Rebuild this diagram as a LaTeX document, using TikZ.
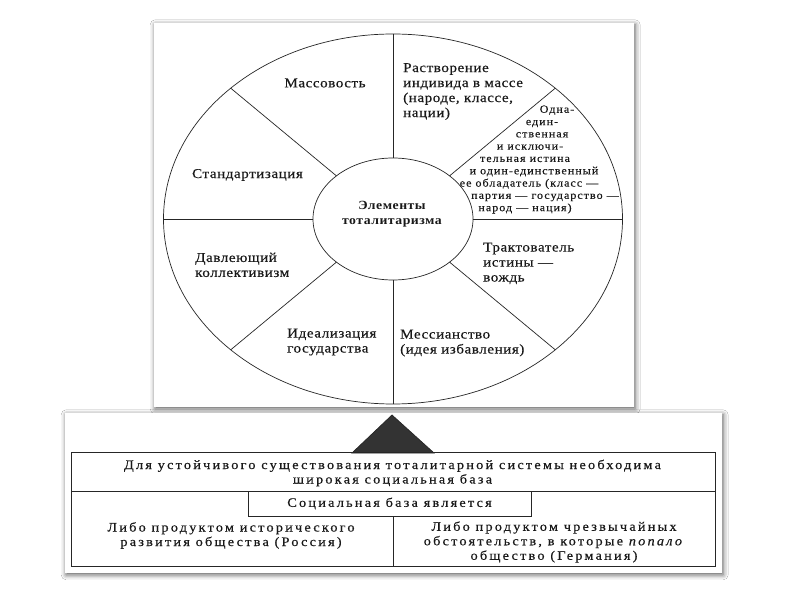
\documentclass[tikz,border=0pt]{standalone}
\usepackage{fontspec}
\setmainfont{Liberation Serif}
\newfontfamily\labfont[LetterSpace=4, FakeStretch=1.12, FakeBold=0.4]{Liberation Serif}
\newfontfamily\smlfont[LetterSpace=9, FakeStretch=1.1, FakeBold=0.25]{Liberation Serif}
\newfontfamily\botfont[LetterSpace=17, FakeStretch=1.1, FakeBold=0.4]{Liberation Serif}
\newfontfamily\ttlfont[LetterSpace=4, FakeStretch=1.1]{Liberation Serif}
\usetikzlibrary{shapes.geometric,shadows.blur,calc}
\begin{document}
\begin{tikzpicture}[x=1pt,y=1pt,
  panel/.style={fill=white, draw=none, inner sep=0pt,
    blur shadow={shadow xshift=1pt, shadow yshift=-2pt, shadow blur radius=5pt, shadow opacity=65}},
  ln/.style={draw=black!85, line width=0.7pt},
  lab/.style={font={\labfont\fontsize{13.5}{15}\selectfont}, inner sep=0pt, text=black!90},
  sml/.style={font={\smlfont\fontsize{11}{12.3}\selectfont}, inner sep=0pt, text=black!90},
  bot/.style={font={\botfont\fontsize{13}{14.5}\selectfont}, inner sep=0pt, text=black!90},
  ttl/.style={font={\ttlfont\bfseries\fontsize{12.5}{15}\selectfont}, inner sep=0pt, text=black!90}
]
\fill[white] (0,0) rectangle (800,600);
\useasboundingbox (0,0) rectangle (800,600);

% panels
\node[panel, minimum width=480, minimum height=384, anchor=south west] (toppanel) at (154,193) {};
\node[panel, minimum width=657, minimum height=160, anchor=south west] (botpanel) at (65,27) {};

% wheel
\node[ellipse, ln, minimum width=459, minimum height=370, inner sep=0pt] (outer) at (393,381) {};
\node[ellipse, ln, minimum width=160, minimum height=122, inner sep=0pt] (inner) at (393,381) {};
\node[ttl, align=center] (title) at (392,385.5) {Элементы\\тоталитаризма};
\draw[ln] (outer.west) -- (inner.west);
\draw[ln] (outer.east) -- (inner.east);
\draw[ln] (outer.north) -- (inner.north);
\draw[ln] (outer.south) -- (inner.south);
\draw[ln] ($(outer.center)+(45:229.5 and 185)$) -- ($(inner.center)+(45:80 and 61)$);
\draw[ln] ($(outer.center)+(135:229.5 and 185)$) -- ($(inner.center)+(135:80 and 61)$);
\draw[ln] ($(outer.center)+(225:229.5 and 185)$) -- ($(inner.center)+(225:80 and 61)$);
\draw[ln] ($(outer.center)+(315:229.5 and 185)$) -- ($(inner.center)+(315:80 and 61)$);

% sector labels
\node[lab] (massovost) at (325,517) {Массовость};
\node[lab, anchor=north west, align=left] (rastvor) at (403,537) {Растворение\\индивида в массе\\(народе, классе,\\нации)};
\node[sml, align=center] (odna) at (534,440.5) {\hspace*{46pt}Одна-\\
\hspace*{16pt}един-\\
\hspace*{16pt}ственная\\
и исключи-\hspace*{8pt}\mbox{}\\
тельная истина\hspace*{18pt}\mbox{}\\
и один-единственный\\
ее обладатель (класс —\hspace*{10pt}\mbox{}\\
\hspace*{22pt}партия — государство —\\
народ — нация)\hspace*{18pt}\mbox{}};
\node[lab] (standart) at (247.5,425) {Стандартизация};
\node[lab, anchor=north west, align=left] (davl) at (195,347.5) {Давлеющий\\коллективизм};
\node[lab, anchor=north west, align=left] (ideal) at (287,271.5) {Идеализация\\государства};
\node[lab, anchor=north west, align=left] (mess) at (400,270.5) {Мессианство\\(идея избавления)};
\node[lab, anchor=north west, align=left] (trakt) at (483,357.5) {Трактователь\\истины —\\вождь};

% bottom scheme
\draw[ln, fill=black!80] (392,185) -- (352,147) -- (434,147) -- cycle;
\node[ln, minimum width=644, minimum height=114, inner sep=0pt, anchor=south west] (table) at (71,33) {};
\coordinate (rowL) at (71,109);
\coordinate (rowR) at (715,109);
\draw[ln] (rowL) -- (rowR);
\node[ln, fill=white, minimum width=283, minimum height=25, inner sep=0pt, bot] (soc) at (389.5,96.5) {Социальная база является};
\coordinate (divT) at (393,84);
\coordinate (divB) at (393,33);
\draw[ln] (divT) -- (divB);
\node[bot, align=center] (need) at (392.5,127) {Для устойчивого существования тоталитарной системы необходима\\широкая социальная база};
\node[bot, align=center] (leftt) at (231,64.5) {Либо продуктом исторического\\развития общества (Россия)};
\node[bot, align=center] (rightt) at (554,58) {Либо продуктом чрезвычайных\\обстоятельств, в которые \textit{попало}\\общество (Германия)};
\end{tikzpicture}
\end{document}
